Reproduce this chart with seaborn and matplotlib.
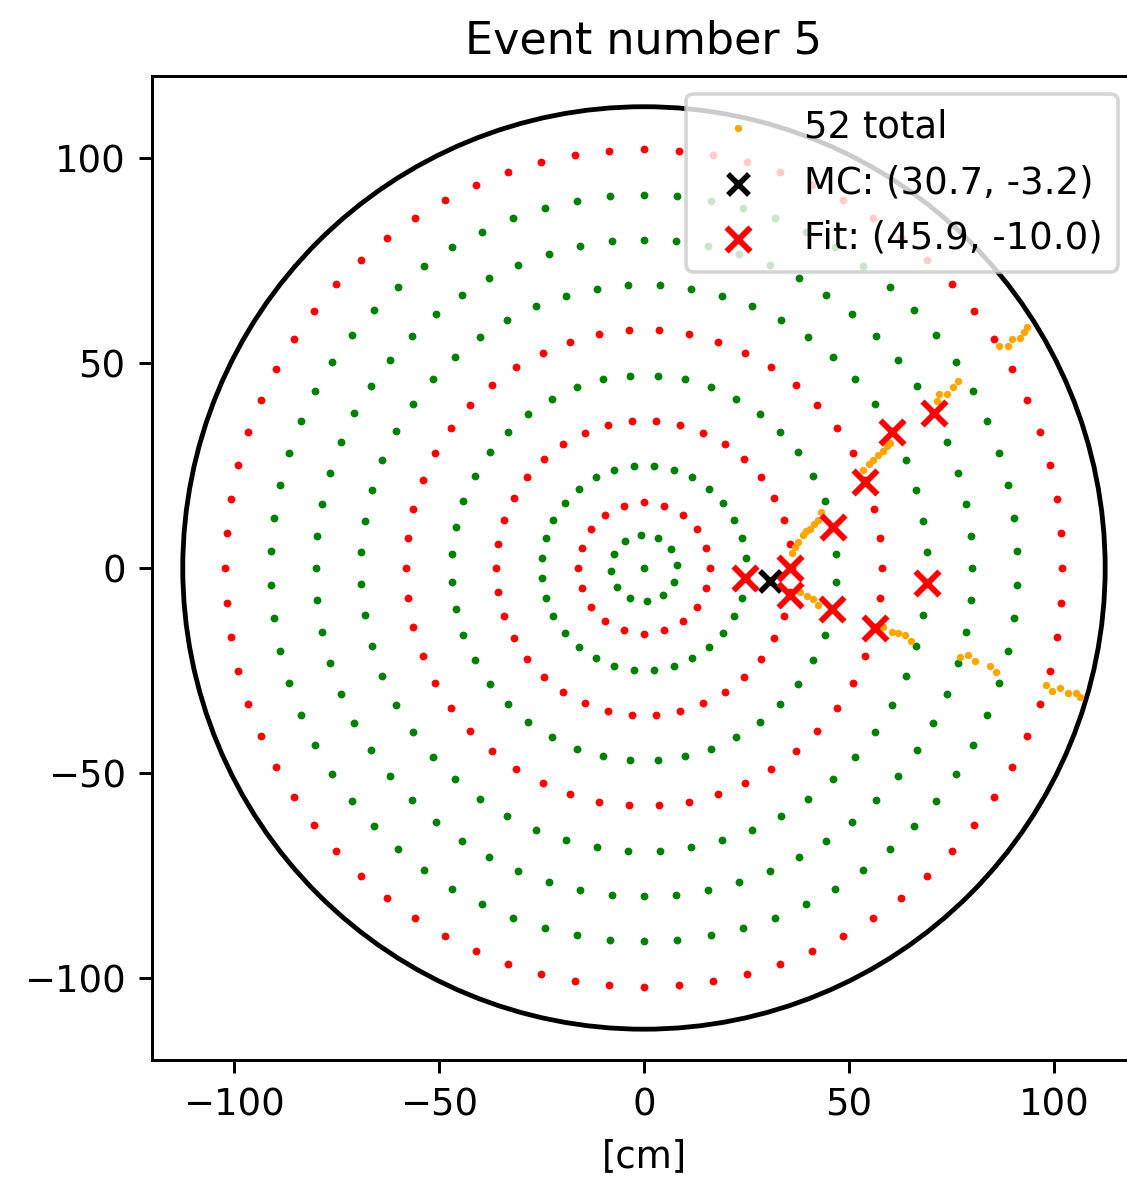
import numpy as np
import pandas as pd
import matplotlib
matplotlib.use("Agg")
import matplotlib.pyplot as plt
import seaborn as sns

# Photosensor rings of the readout plane (radius in cm, sensors per ring,
# angular offset as a fraction of the ring pitch, sensor type colour)
ring_radius = [8, 16, 25, 36, 47, 58, 69, 80, 91, 102]
ring_count = [12, 20, 32, 38, 44, 50, 56, 64, 70, 76]
ring_offset = [0.15, 0.0, 0.5, 0.0, 0.5, 0.0, 0.5, 0.0, 0.5, 0.0]
ring_color = ["green", "red", "green", "red", "green", "red",
              "green", "green", "green", "red"]
centre_color = "green"
detector_radius = 112.4

# Recorded hits of event 5 [cm]
hit_x = [35.6, 36.0, 36.8, 37.6, 38.8, 39.6, 40.5, 41.5, 42.3, 43.1,
         35.6, 38.0, 39.8, 41.3, 42.5, 45.9,
         58.3, 60.4, 62.0, 63.6, 65.2,
         77.0, 79.0, 80.7, 84.3, 85.8,
         98.0, 99.4, 101.4, 103.4, 105.3, 106.3,
         53.9, 53.5, 54.9, 55.9, 57.1, 58.2, 59.2, 60.0, 60.4,
         71.3, 72.0, 73.9, 75.2, 76.6,
         86.5, 88.8, 89.6, 91.6, 92.7, 93.4]
hit_y = [-0.1, 3.6, 5.2, 6.4, 8.0, 9.0, 9.5, 10.6, 11.8, 13.6,
         -6.6, -5.8, -6.8, -7.6, -9.0, -10.0,
         -14.3, -15.5, -15.9, -16.3, -17.7,
         -21.8, -21.2, -22.7, -23.9, -25.3,
         -28.5, -29.9, -29.3, -30.4, -30.5, -31.5,
         20.9, 23.9, 25.3, 26.3, 27.5, 28.6, 29.6, 30.5, 33.2,
         40.7, 42.4, 42.4, 44.2, 45.6,
         54.1, 54.1, 55.7, 56.0, 57.6, 58.7]

# True (MC) vertex and reconstructed positions
mc_x, mc_y = 30.7, -3.2
fit_x = [45.9, 24.6, 35.6, 35.6, 46.1, 53.9, 60.4, 70.8, 68.9, 56.3]
fit_y = [-10.0, -2.5, -0.1, -6.6, 9.9, 20.9, 33.2, 37.7, -3.7, -14.7]

event_number = 5

# ---- sensor positions from the ring description
rows = [{"x": 0.0, "y": 0.0, "kind": centre_color}]
for r, n, off, col in zip(ring_radius, ring_count, ring_offset, ring_color):
    ang = 2 * np.pi * (np.arange(n) + off) / n
    for a in ang:
        rows.append({"x": r * np.cos(a), "y": r * np.sin(a), "kind": col})
sensors = pd.DataFrame(rows)
hits = pd.DataFrame({"x": hit_x, "y": hit_y})

dpi = 266
fig = plt.figure(figsize=(1127 / dpi, 1182 / dpi), dpi=dpi)
ax = fig.add_axes([0.1345, 0.1029, 0.8738, 0.8332])

for kind in ["red", "green"]:
    sub = sensors[sensors["kind"] == kind]
    sns.scatterplot(data=sub, x="x", y="y", color=kind, s=4.5,
                    linewidth=0, ax=ax, legend=False, zorder=2)

ax.add_patch(plt.Circle((0, 0), detector_radius, fill=False,
                        color="black", lw=1.3, zorder=1))

sns.scatterplot(data=hits, x="x", y="y", color="orange", s=4.0,
                linewidth=0, ax=ax, label=f"{len(hits)} total", zorder=3)
sns.scatterplot(x=[mc_x], y=[mc_y], color="black", marker="x", s=32,
                linewidth=1.5, ax=ax,
                label=f"MC: ({mc_x:.1f}, {mc_y:.1f})", zorder=4)
sns.scatterplot(x=fit_x, y=fit_y, color="red", marker="x", s=42,
                linewidth=1.6, ax=ax,
                label=f"Fit: ({fit_x[0]:.1f}, {fit_y[0]:.1f})", zorder=5)

ax.set_xlim(-120, 120)
ax.set_ylim(-120, 120)
ax.set_xticks([-100, -50, 0, 50, 100])
ax.set_yticks([-100, -50, 0, 50, 100])
ax.set_xlabel("[cm]")
ax.set_ylabel("")
ax.set_title(f"Event number {event_number}")
ax.legend(loc="upper right")

fig.savefig("out.png", dpi=dpi)
